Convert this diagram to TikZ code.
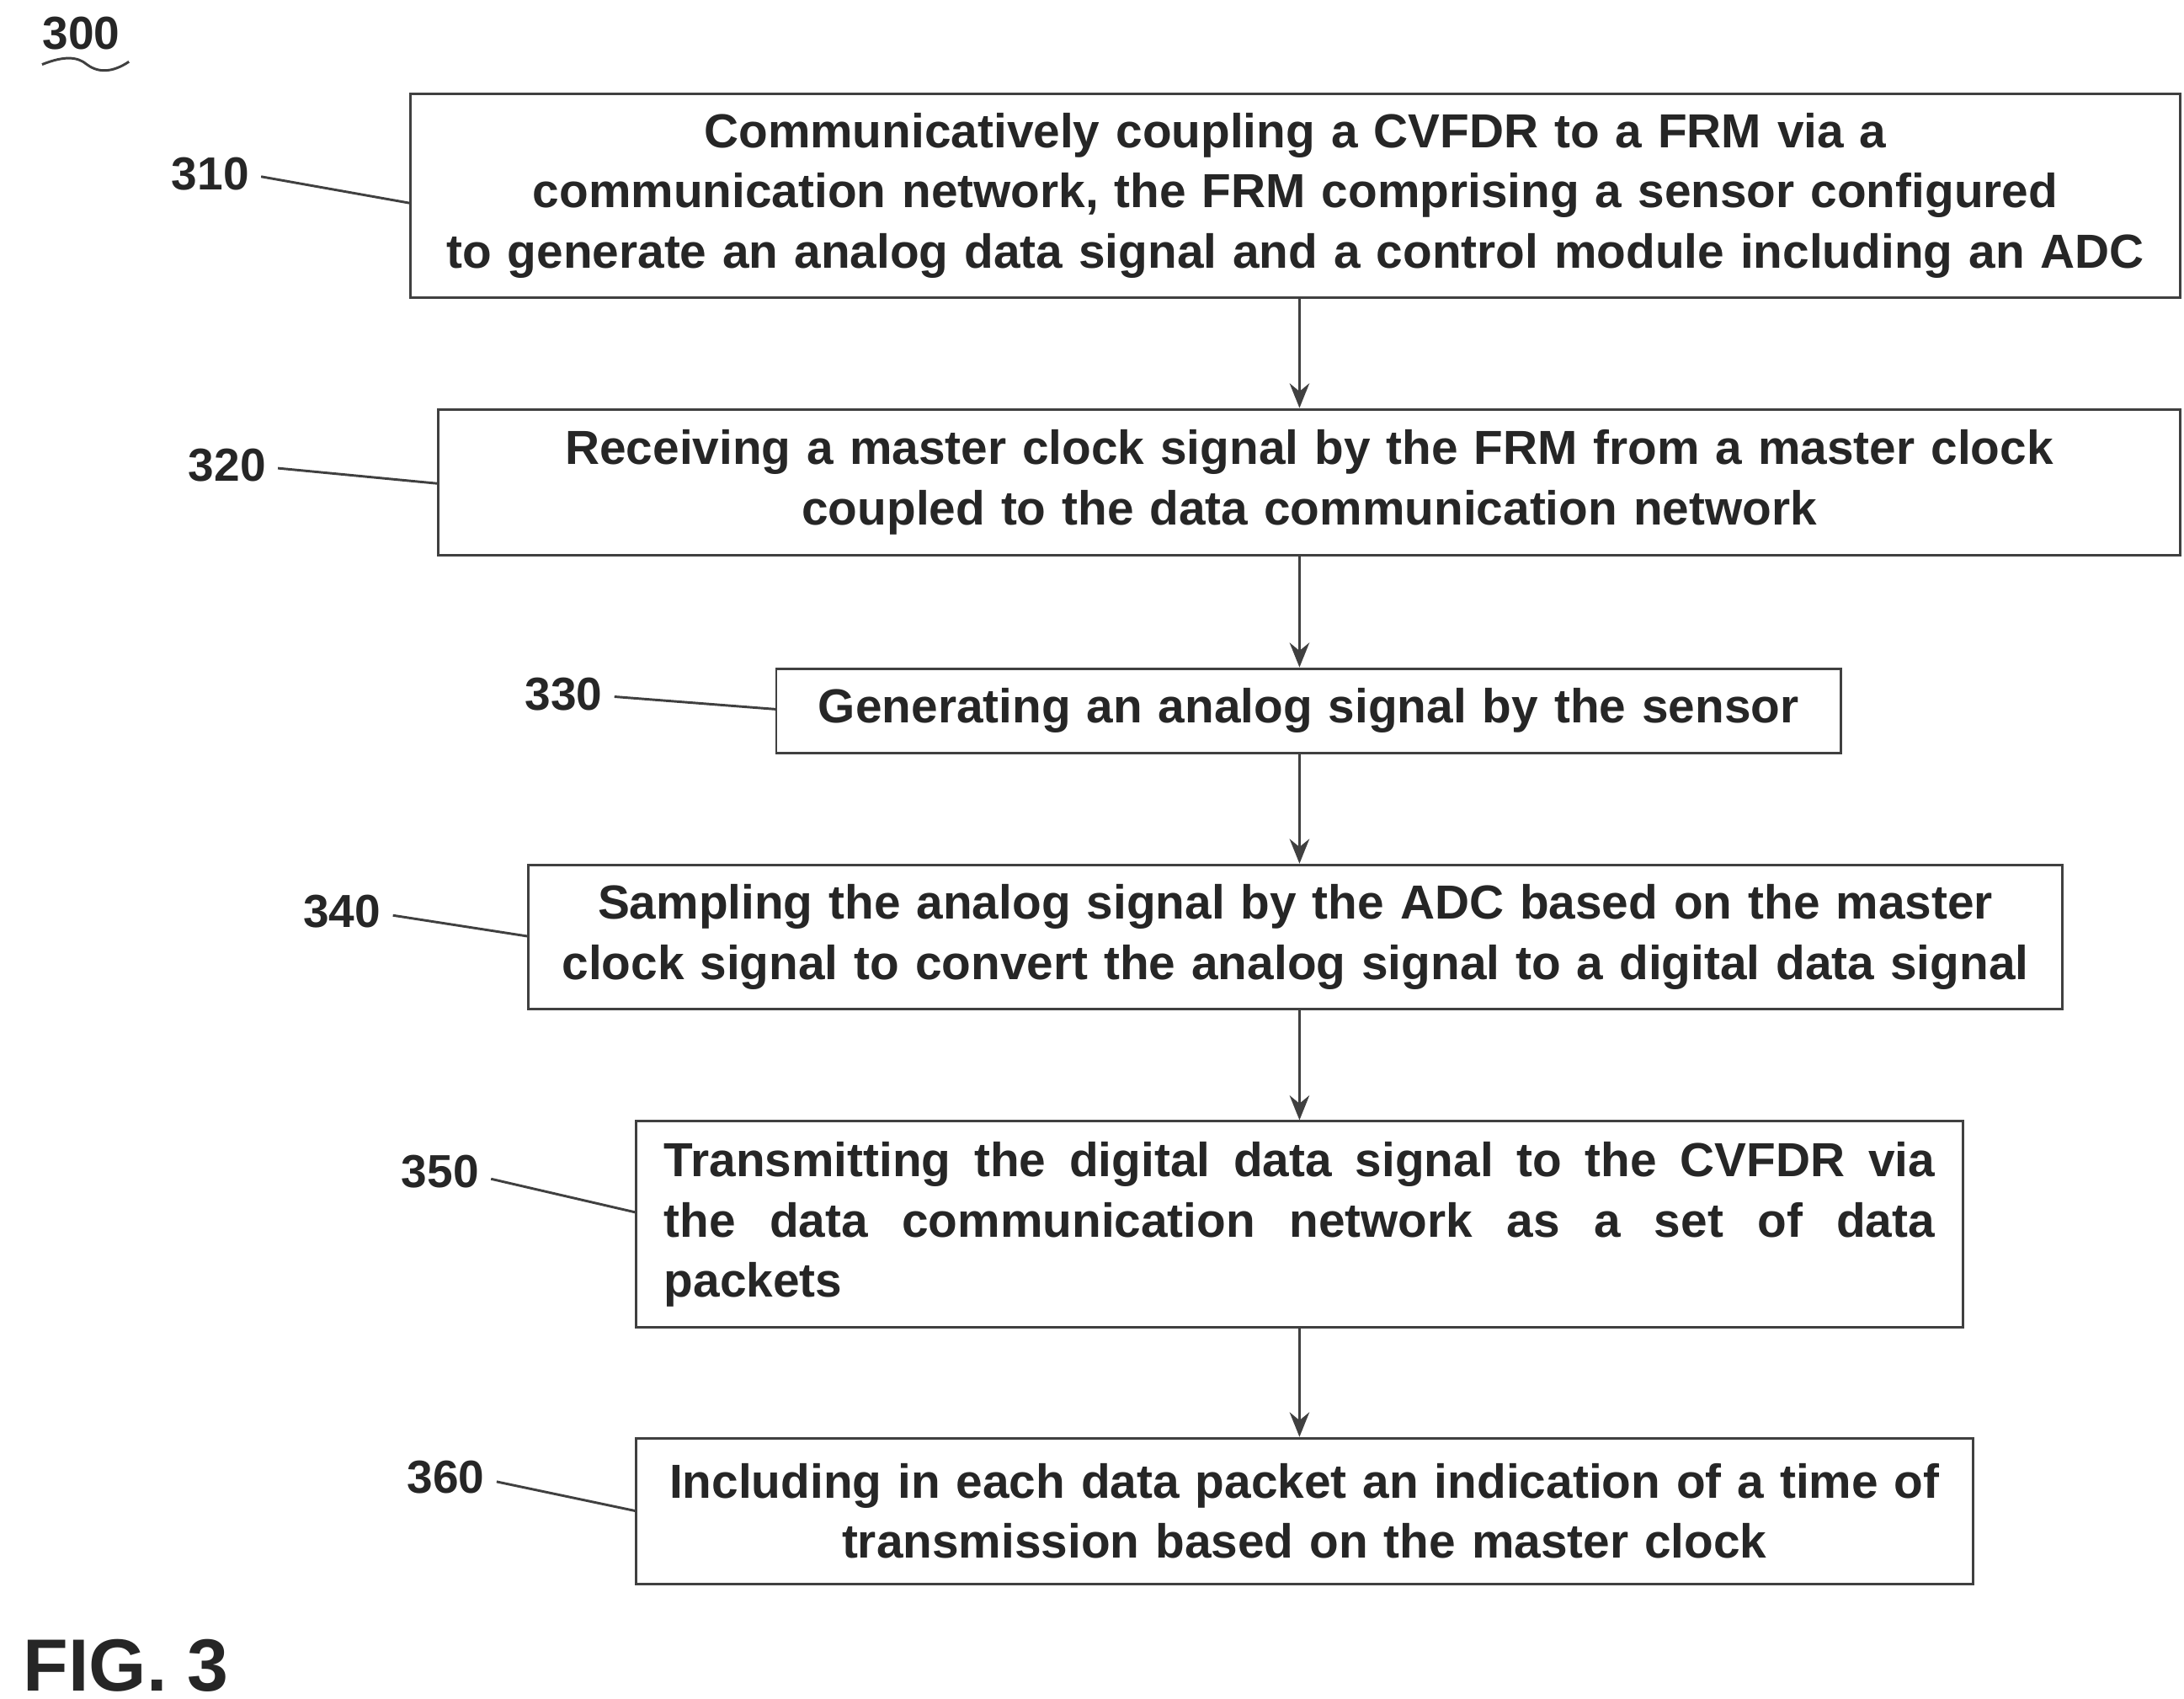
\documentclass[tikz,border=0pt]{standalone}
\usepackage{fontspec}
\setmainfont{Liberation Sans}
\usetikzlibrary{arrows.meta}
\begin{document}
\begin{tikzpicture}[x=0.01cm,y=-0.01cm,
  box/.style={draw=black!75,line width=0.5pt,inner sep=0pt,align=center,font=\bfseries\fontsize{9.7}{12.2}\selectfont,text=black!85},
  lbl/.style={font=\bfseries\fontsize{9.4}{12}\selectfont,text=black!85,inner sep=0pt},
  lead/.style={draw=black!75,line width=0.5pt},
  arr/.style={draw=black!75,line width=0.6pt,-{Stealth[length=5pt,width=4pt]}}]
\useasboundingbox (0,0) rectangle (1558,1212);
\node[box,minimum width=12.62cm,minimum height=1.45cm,text width=12.45cm] (b1) at (924,139.5)
 {Communicatively coupling a CVFDR to a FRM via a\\communication network, the FRM comprising a sensor configured\\to generate an analog data signal and a control module including an ADC};
\node[box,minimum width=12.42cm,minimum height=1.04cm,text width=12.2cm] (b2) at (934,344)
 {Receiving a master clock signal by the FRM from a master clock\\coupled to the data communication network};
\node[box,minimum width=7.59cm,minimum height=0.6cm,text width=7.4cm] (b3) at (933.5,507)
 {Generating an analog signal by the sensor};
\node[box,minimum width=10.94cm,minimum height=1.03cm,text width=10.85cm] (b4) at (924,668.5)
 {Sampling the analog signal by the ADC based on the master\\clock signal to convert the analog signal to a digital data signal};
\node[box,minimum width=9.46cm,minimum height=1.47cm,text width=9.06cm,align=justify] (b5) at (927,873.5)
 {Transmitting the digital data signal to the CVFDR via\linebreak the data communication network as a set of data\linebreak packets};
\node[box,minimum width=9.53cm,minimum height=1.04cm,text width=9.3cm] (b6) at (930.5,1078)
 {Including in each data packet an indication of a time of\\transmission based on the master clock};
\coordinate (X) at (927,0);
\foreach \a/\b in {b1/b2,b2/b3,b3/b4,b4/b5,b5/b6}
  \draw[arr] (\a.south -| X) -- (\b.north -| X);
\node[lbl] (l1) at (150,124) {310};
\node[lbl] (l2) at (162,332) {320};
\node[lbl] (l3) at (402,495) {330};
\node[lbl] (l4) at (244,650) {340};
\node[lbl] (l5) at (314,836) {350};
\node[lbl] (l6) at (318,1054) {360};
\draw[lead] (l1.east)+(8,2) -- (293,145);
\draw[lead] (l2.east)+(8,2) -- (313,345);
\draw[lead] (l3.east)+(8,2) -- (554,506);
\draw[lead] (l4.east)+(8,3) -- (377,668);
\draw[lead] (l5.east)+(8,5) -- (454,865);
\draw[lead] (l6.east)+(8,3) -- (454,1078);
\node[lbl] (l0) at (58,24) {300};
\draw[lead] (30,46) .. controls (45,40) and (55,40) .. (62,46) .. controls (70,52) and (80,52) .. (92,44);
\node[font=\bfseries\fontsize{15}{17}\selectfont,text=black!85,inner sep=0pt] (fig) at (90,1188) {FIG. 3};
\end{tikzpicture}
\end{document}
